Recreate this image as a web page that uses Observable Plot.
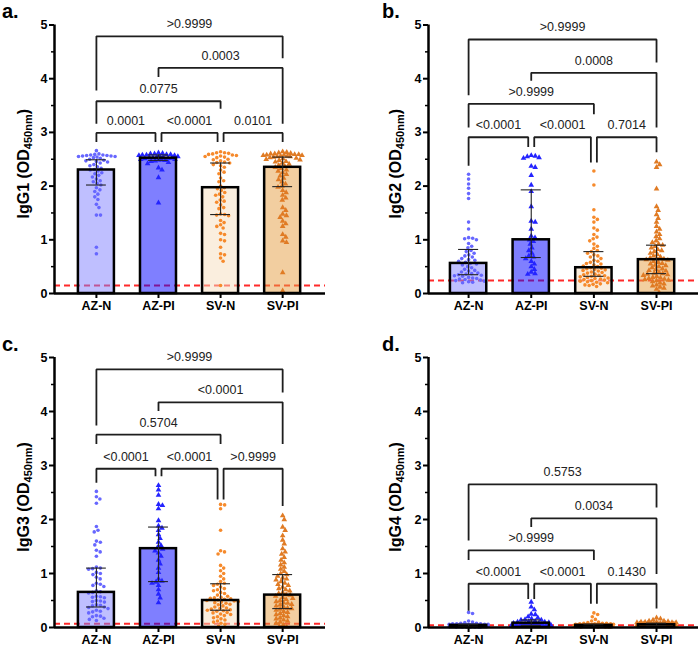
<!DOCTYPE html>
<html><head><meta charset="utf-8">
<script src="https://cdn.jsdelivr.net/npm/d3@7"></script>
<script src="https://cdn.jsdelivr.net/npm/@observablehq/plot@0.6"></script>
<style>
body{margin:0;background:#fff;}
#wrap{position:relative;width:700px;height:648px;font-family:"Liberation Sans",Arial,sans-serif;}
.panel{position:absolute;width:350px;height:324px;}
</style></head><body><div id="wrap"></div>
<script>
// ---------- categories & labels ----------
const groups = ["AZ-N", "AZ-PI", "SV-N", "SV-PI"];
const panelLetters = ["a.", "b.", "c.", "d."];
const yLabels = ["IgG1", "IgG2", "IgG3", "IgG4"];
const yTicks = [0, 1, 2, 3, 4, 5];
const yMinorTicks = [0.5, 1.5, 2.5, 3.5, 4.5];
const cutoffs = [0.15, 0.24, 0.07, 0.04];

// ---------- bar heights (median) and IQR ----------
const medians = [[2.30, 2.52, 1.97, 2.35], [0.56, 1.00, 0.48, 0.63], [0.65, 1.46, 0.50, 0.60], [0.04, 0.08, 0.04, 0.05]];
const q1s     = [[2.02, 2.48, 1.47, 1.99], [0.35, 0.67, 0.32, 0.37], [0.38, 0.85, 0.32, 0.35], [0.02, 0.04, 0.02, 0.03]];
const q3s     = [[2.49, 2.58, 2.43, 2.54], [0.82, 1.93, 0.78, 0.90], [1.10, 1.86, 0.81, 0.98], [0.06, 0.14, 0.06, 0.08]];

// ---------- individual points ----------
const igg1AZN = [2.66,2.60,2.59,2.58,2.58,2.57,2.57,2.56,2.56,2.55,2.55,2.54,2.53,2.52,2.50,2.48,2.47,2.46,2.45,2.43,2.40,2.38,2.36,2.33,2.31,2.30,2.28,2.25,2.23,2.20,2.17,2.13,2.10,2.08,2.05,2.02,1.97,1.93,1.90,1.85,1.80,1.75,1.66,1.60,1.46,1.46,0.86,0.74];
const igg1AZPI = [2.62,2.61,2.60,2.60,2.59,2.59,2.58,2.58,2.57,2.57,2.56,2.55,2.55,2.54,2.53,2.53,2.52,2.52,2.51,2.50,2.50,2.49,2.49,2.48,2.47,2.46,2.44,2.42,2.34,2.30,2.16,1.69];
const igg1SVN = [2.64,2.62,2.62,2.61,2.60,2.59,2.58,2.57,2.56,2.55,2.54,2.53,2.50,2.49,2.47,2.45,2.44,2.43,2.40,2.38,2.35,2.30,2.26,2.23,2.15,2.10,2.08,2.00,1.97,1.95,1.92,1.88,1.85,1.83,1.80,1.74,1.72,1.70,1.65,1.60,1.58,1.48,1.47,1.46,1.45,1.36,1.32,1.28,1.25,1.22,1.12,1.10,1.00,0.98,0.86,0.74,0.72,0.66,0.60,0.15];
const igg1SVPI = [2.64,2.63,2.62,2.61,2.60,2.60,2.59,2.59,2.58,2.58,2.57,2.57,2.56,2.56,2.55,2.55,2.54,2.53,2.52,2.51,2.50,2.49,2.48,2.46,2.45,2.43,2.41,2.39,2.37,2.35,2.33,2.30,2.28,2.25,2.22,2.19,2.15,2.12,2.08,2.04,2.00,1.98,1.92,1.88,1.83,1.78,1.74,1.60,1.55,1.48,1.45,1.42,1.35,1.30,1.25,1.10,1.05,0.98,0.95,0.39,0.05];

const igg2AZN = [2.22,2.13,2.04,1.96,1.86,1.77,1.33,1.20,1.04,1.03,1.02,1.00,0.93,0.88,0.85,0.80,0.78,0.75,0.72,0.70,0.68,0.65,0.63,0.62,0.60,0.58,0.56,0.55,0.53,0.50,0.48,0.45,0.43,0.42,0.40,0.38,0.37,0.36,0.35,0.34,0.33,0.32,0.30,0.29,0.28,0.27,0.26,0.25,0.24,0.23,0.22,0.21,0.20];
const igg2AZPI = [2.57,2.56,2.55,2.53,2.52,2.37,2.35,2.20,2.02,1.90,1.62,1.35,1.33,1.20,1.07,1.04,1.00,0.97,0.92,0.85,0.80,0.75,0.70,0.68,0.65,0.60,0.55,0.50,0.45,0.40,0.37,0.36];
const igg2SVN = [2.28,2.02,1.56,1.42,1.38,1.33,1.22,1.18,1.10,1.05,1.02,0.98,0.92,0.88,0.84,0.80,0.78,0.75,0.72,0.70,0.68,0.65,0.62,0.60,0.58,0.56,0.55,0.53,0.51,0.50,0.48,0.47,0.46,0.45,0.44,0.43,0.42,0.40,0.39,0.38,0.36,0.35,0.34,0.33,0.32,0.31,0.30,0.29,0.28,0.27,0.26,0.25,0.24,0.23,0.22,0.21,0.20,0.18,0.17,0.16,0.15,0.13];
const igg2SVPI = [2.45,2.40,2.35,1.95,1.62,1.55,1.47,1.40,1.33,1.25,1.20,1.15,1.10,1.06,1.02,0.98,0.95,0.92,0.90,0.88,0.85,0.82,0.80,0.78,0.75,0.73,0.70,0.68,0.66,0.65,0.64,0.63,0.62,0.60,0.58,0.56,0.55,0.53,0.52,0.50,0.48,0.46,0.45,0.43,0.42,0.40,0.38,0.37,0.36,0.35,0.34,0.32,0.30,0.29,0.28,0.27,0.26,0.25,0.24,0.22,0.20,0.18,0.16,0.14,0.12,0.10,0.08,0.02];

const igg3AZN = [2.52,2.42,2.38,2.30,1.87,1.80,1.77,1.60,1.58,1.53,1.43,1.40,1.32,1.12,1.10,1.09,1.08,1.02,1.00,0.98,0.93,0.90,0.82,0.80,0.78,0.76,0.68,0.66,0.65,0.64,0.58,0.57,0.56,0.55,0.50,0.49,0.48,0.47,0.42,0.41,0.40,0.38,0.37,0.35,0.32,0.30,0.29,0.27,0.22,0.21,0.20,0.17,0.15,0.13];
const igg3AZPI = [2.63,2.55,2.45,2.28,2.26,2.20,1.98,1.88,1.84,1.80,1.72,1.65,1.58,1.52,1.48,1.45,1.42,1.38,1.32,1.25,1.18,1.10,1.02,0.90,0.86,0.84,0.82,0.78,0.70,0.62,0.55,0.46];
const igg3SVN = [2.28,2.27,2.20,1.80,1.42,1.40,1.36,1.15,1.10,1.05,1.00,0.95,0.90,0.85,0.82,0.80,0.78,0.75,0.72,0.70,0.68,0.65,0.63,0.60,0.58,0.56,0.55,0.54,0.53,0.52,0.51,0.50,0.49,0.48,0.47,0.46,0.45,0.43,0.42,0.40,0.38,0.36,0.35,0.34,0.33,0.32,0.31,0.30,0.28,0.27,0.25,0.24,0.22,0.20,0.18,0.16,0.14,0.12,0.10,0.08,0.06,0.02];
const igg3SVPI = [2.07,2.00,1.86,1.80,1.70,1.62,1.55,1.46,1.40,1.36,1.30,1.25,1.20,1.16,1.12,1.08,1.04,1.00,0.98,0.95,0.92,0.90,0.88,0.85,0.82,0.80,0.78,0.75,0.72,0.70,0.68,0.65,0.63,0.61,0.60,0.58,0.56,0.54,0.52,0.50,0.48,0.46,0.45,0.43,0.42,0.40,0.38,0.36,0.35,0.34,0.32,0.30,0.28,0.26,0.24,0.22,0.20,0.18,0.16,0.14,0.12,0.10,0.08,0.05,0.02,0.01];

const igg4AZN = [0.28,0.26,0.12,0.10,0.09,0.08,0.08,0.07,0.07,0.07,0.06,0.06,0.06,0.06,0.05,0.05,0.05,0.05,0.05,0.05,0.04,0.04,0.04,0.04,0.04,0.04,0.04,0.03,0.03,0.03,0.03,0.03,0.03,0.03,0.02,0.02,0.02,0.02,0.02,0.02,0.02,0.01,0.01,0.01,0.01,0.01,0.01,0.01];
const igg4AZPI = [0.47,0.38,0.33,0.25,0.24,0.20,0.18,0.16,0.15,0.14,0.14,0.12,0.11,0.10,0.10,0.09,0.08,0.08,0.08,0.07,0.06,0.06,0.06,0.05,0.05,0.05,0.04,0.04,0.04,0.03,0.03,0.02];
const igg4SVN = [0.27,0.24,0.20,0.15,0.12,0.10,0.09,0.08,0.08,0.08,0.07,0.07,0.07,0.06,0.06,0.06,0.06,0.06,0.05,0.05,0.05,0.05,0.05,0.05,0.05,0.05,0.04,0.04,0.04,0.04,0.04,0.04,0.04,0.04,0.04,0.04,0.03,0.03,0.03,0.03,0.03,0.03,0.03,0.03,0.03,0.03,0.02,0.02,0.02,0.02,0.02,0.02,0.02,0.02,0.01,0.01,0.01,0.01,0.01];
const igg4SVPI = [0.18,0.16,0.14,0.12,0.12,0.11,0.10,0.10,0.10,0.09,0.09,0.09,0.08,0.08,0.08,0.08,0.08,0.07,0.07,0.07,0.07,0.07,0.07,0.06,0.06,0.06,0.06,0.06,0.06,0.06,0.06,0.05,0.05,0.05,0.05,0.05,0.05,0.05,0.05,0.05,0.05,0.04,0.04,0.04,0.04,0.04,0.04,0.04,0.04,0.04,0.04,0.03,0.03,0.03,0.03,0.03,0.03,0.03,0.03,0.02,0.02,0.02,0.02,0.02,0.02];

const panelPoints = [
  [igg1AZN, igg1AZPI, igg1SVN, igg1SVPI],
  [igg2AZN, igg2AZPI, igg2SVN, igg2SVPI],
  [igg3AZN, igg3AZPI, igg3SVN, igg3SVPI],
  [igg4AZN, igg4AZPI, igg4SVN, igg4SVPI]
];

// ---------- significance brackets ----------
const bracketPairs = [[0, 1], [1, 2], [2, 3], [0, 2], [1, 3], [0, 3]];
const pLabels = [
  ["0.0001", "<0.0001", "0.0101", "0.0775", "0.0003", ">0.9999"],
  ["<0.0001", "<0.0001", "0.7014", ">0.9999", "0.0008", ">0.9999"],
  ["<0.0001", "<0.0001", ">0.9999", "0.5704", "<0.0001", ">0.9999"],
  ["<0.0001", "<0.0001", "0.1430", ">0.9999", "0.0034", "0.5753"]
];
const bracketLevels = [
  [2.99, 2.99, 2.99, 3.58, 4.20, 4.79],
  [2.91, 2.91, 2.91, 3.53, 4.11, 4.73],
  [2.94, 2.94, 2.94, 3.57, 4.17, 4.78],
  [0.81, 0.81, 0.81, 1.43, 2.02, 2.65]
];
const legLeftEnds = [
  [2.82, 2.82, 2.82, 3.16, 4.03, 3.78],
  [2.38, 2.73, 2.44, 3.09, 3.96, 3.69],
  [2.68, 2.80, 2.37, 3.40, 4.01, 3.74],
  [0.31, 0.53, 0.44, 1.25, 1.86, 1.61]
];
const legRightEnds = [
  [2.82, 2.82, 2.82, 3.44, 3.16, 4.38],
  [2.73, 2.44, 2.63, 3.34, 3.09, 4.30],
  [2.80, 2.37, 2.25, 3.40, 3.40, 4.35],
  [0.53, 0.44, 0.35, 1.25, 0.99, 2.22]
];

// ---------- styling ----------
const barFills = ["#8080ff", "#0000ff", "#f5ddbd", "#e59d41"];
const pointFills = ["#6767ff", "#2424ff", "#f68a2c", "#e07b24"];
const FONT = "'Liberation Sans', Arial, Helvetica, sans-serif";

// deterministic beeswarm layout (pixel offsets)
function swarm(values, ky, r, maxOff) {
  const order = d3.range(values.length).sort((a, b) => values[b] - values[a] || a - b);
  const placed = [], out = new Array(values.length);
  for (const i of order) {
    const py = values[i] * ky;
    let d = 2 * r, x = null;
    while (x === null) {
      const iv = [];
      for (const p of placed) {
        const dy = Math.abs(p.y - py);
        if (dy < d) { const w = Math.sqrt(d * d - dy * dy); iv.push([p.x - w, p.x + w]); }
      }
      const cands = [0];
      for (const [a, b] of iv) cands.push(a, b);
      cands.sort((a, b) => Math.abs(a) - Math.abs(b) || b - a);
      for (const c of cands) {
        if (Math.abs(c) > maxOff) break;
        if (iv.every(([a, b]) => c <= a + 1e-6 || c >= b - 1e-6)) { x = c; break; }
      }
      d *= 0.85;
      if (x === null && d < 0.3) x = 0;
    }
    placed.push({x, y: py});
    out[i] = x;
  }
  return out;
}

const wrap = document.getElementById("wrap");

for (let p = 0; p < 4; p++) {
  const leftCol = p % 2 === 0, topRow = p < 2;
  const W = 350, H = 324;
  const mL = leftCol ? 54 : 78, mR = leftCol ? 25 : 2;
  const mT = topRow ? 24.5 : 33, mB = topRow ? 31 : 21;
  const xDom = leftCol ? [-0.675, 3.69] : [-0.64, 3.67];
  const kx = (W - mL - mR) / (xDom[1] - xDom[0]);
  const ky = (H - mT - mB) / 5;

  const pts = [];
  panelPoints[p].forEach((vals, g) => {
    const off = swarm(vals, ky, 2.05, 20);
    vals.forEach((v, j) => pts.push({g, v, x: g + off[j] / kx}));
  });
  const bars = groups.map((name, g) => ({g, name, med: medians[p][g], lo: q1s[p][g], hi: q3s[p][g]}));
  const caps = bars.flatMap(b => [{g: b.g, y: b.lo}, {g: b.g, y: b.hi}]);

  const brLines = [], brText = [];
  bracketPairs.forEach(([a, b], k) => {
    const lvl1 = k < 3;
    const xa = a + (lvl1 && a > 0 ? 3 / kx : 0);
    const xb = b - (lvl1 && b < 3 ? 3 / kx : 0);
    const L = bracketLevels[p][k];
    brLines.push({id: k, x: xa, y: legLeftEnds[p][k]}, {id: k, x: xa, y: L}, {id: k, x: xb, y: L}, {id: k, x: xb, y: legRightEnds[p][k]});
    brText.push({x: (xa + xb) / 2, y: L, label: pLabels[p][k]});
  });

  const chart = Plot.plot({
    width: W, height: H,
    marginLeft: mL, marginRight: mR, marginTop: mT, marginBottom: mB,
    x: {domain: xDom, axis: null},
    y: {domain: [0, 5], axis: null},
    color: {type: "identity"},
    style: {fontFamily: FONT, background: "white", overflow: "visible", color: "black"},
    marks: [
      Plot.ruleY([cutoffs[p]], {stroke: "#ff2a2a", strokeWidth: 2, strokeDasharray: "6,4"}),
      Plot.rect(bars, {x1: d => d.g - 0.29, x2: d => d.g + 0.29, y1: 0, y2: "med", fill: d => barFills[d.g], fillOpacity: 0.5}),
      Plot.dot(pts.filter(d => d.g % 2 === 0), {x: "x", y: "v", r: 1.8, fill: d => pointFills[d.g], stroke: "none"}),
      Plot.dot(pts.filter(d => d.g % 2 === 1), {x: "x", y: "v", r: 2.1, symbol: "triangle", fill: d => pointFills[d.g], stroke: "none"}),
      Plot.rect(bars, {x1: d => d.g - 0.29, x2: d => d.g + 0.29, y1: 0, y2: "med", fill: "none", stroke: "black", strokeWidth: 2.5}),
      Plot.ruleX(bars, {x: "g", y1: "lo", y2: "hi", stroke: "#222", strokeWidth: 1.1}),
      Plot.ruleY(caps, {y: "y", x1: d => d.g - 0.16, x2: d => d.g + 0.16, stroke: "#222", strokeWidth: 1.1}),
      Plot.axisY(yTicks, {tickSize: 5, tickPadding: 2, tickFormat: d3.format("d"), fontWeight: "bold", fontSize: 12.5, strokeWidth: 2, label: null}),
      Plot.axisY(yMinorTicks, {tickSize: 3, tickFormat: () => "", strokeWidth: 1.5, label: null}),
      Plot.axisX([0, 1, 2, 3], {tickSize: 5, tickPadding: 3, tickFormat: i => groups[i], fontWeight: "bold", fontSize: 12.5, strokeWidth: 2, label: null}),
      Plot.ruleX([xDom[0]], {y1: 0, y2: 5, stroke: "black", strokeWidth: 2.5}),
      Plot.ruleY([0], {stroke: "black", strokeWidth: 2.5}),
      Plot.line(brLines, {x: "x", y: "y", z: "id", stroke: "#1e1e1e", strokeWidth: 1.8, strokeLinejoin: "miter", strokeLinecap: "butt"}),
      Plot.text(brText, {x: "x", y: "y", text: "label", dy: -12, fontSize: 12.5, fill: "#222"})
    ]
  });

  const svg = d3.select(chart);
  const yScale = chart.scale("y");
  const lx = leftCol ? 25 : 47;
  const ly = yScale.apply(2.5) + 5;
  const t = svg.append("text")
    .attr("transform", `translate(${lx},${ly}) rotate(-90)`)
    .attr("text-anchor", "middle")
    .attr("dominant-baseline", "middle")
    .attr("font-family", FONT)
    .attr("font-weight", "bold")
    .attr("font-size", 16)
    .attr("fill", "black");
  t.append("tspan").text(`${yLabels[p]} (OD`);
  t.append("tspan").attr("font-size", 11).attr("dy", 4).text("450nm");
  t.append("tspan").attr("dy", -4).text(")");

  svg.append("text")
    .attr("x", leftCol ? 2 : 32)
    .attr("y", topRow ? 18 : 27)
    .attr("text-anchor", "start")
    .attr("font-family", FONT)
    .attr("font-weight", "bold")
    .attr("font-size", 20)
    .attr("fill", "black")
    .text(panelLetters[p]);

  const div = document.createElement("div");
  div.className = "panel";
  div.style.left = (leftCol ? 0 : 350) + "px";
  div.style.top = (topRow ? 0 : 324) + "px";
  div.appendChild(chart);
  wrap.appendChild(div);
}
</script>
</body></html>
